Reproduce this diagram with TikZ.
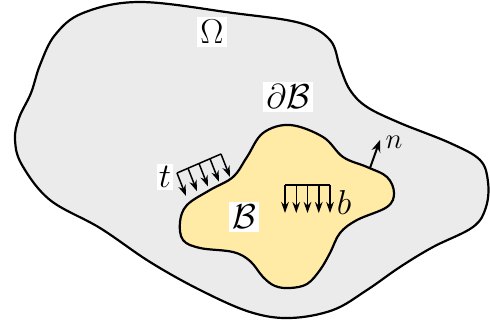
\documentclass[tikz,border=0pt]{standalone}
\usepackage{amsmath}
\usepackage{amssymb}
\usetikzlibrary{arrows.meta}
\definecolor{outergray}{HTML}{EBEBEB}
\definecolor{bodyyellow}{HTML}{FFEBA6}
\tikzset{
  lbl/.style={fill=white,inner sep=1.5pt,font=\LARGE},
  load/.style={-{Stealth[length=5.5pt,width=3.8pt]},line width=0.75pt}
}
\begin{document}
\begin{tikzpicture}[x=0.5pt,y=-0.5pt]
            \useasboundingbox (0,0) rectangle (490,325);

            % domain and body
            \draw[line width=1.1pt,fill=outergray] plot[smooth cycle,tension=0.6] coordinates {
                (140,2) (233,13) (300,23) (330,40) (340,67) (350,90) (367,107) (400,123)
                (450,143) (480,160) (488,182) (486,207) (473,227) (433,247) (400,267)
                (367,290) (333,310) (290,318) (250,312) (200,290) (150,262) (100,228)
                (50,200) (22,165) (15,140) (19,118) (31,93) (40,65) (55,35) (83,13)};
            \draw[line width=1.1pt,fill=bodyyellow] plot[smooth cycle,tension=0.6] coordinates {
                (290,125) (323,137) (343,157) (367,167) (387,177) (394,193) (387,207)
                (357,220) (340,233) (330,253) (320,270) (307,284) (290,288) (275,286)
                (263,277) (250,261) (233,252) (200,248) (183,240) (180,222) (187,205)
                (210,190) (233,177) (247,157) (263,133)};

            \node[lbl] (omega) at (212,32) {\(\Omega\)};
            \node[lbl] (bnd) at (288,97) {\(\partial\mathcal{B}\)};
            \node[lbl] (body) at (244,217) {\(\mathcal{B}\)};
            \node[lbl,inner sep=1pt] (tl) at (165,177) {\(t\)};
            \node[lbl,fill=none] (bl) at (344,202) {\(b\)};
            \node[lbl,fill=none,font=\Large] (nl) at (394,142) {\(n\)};

            % traction
            \foreach \i in {0,...,4}{
                \coordinate (t\i) at ({177+11*\i},{173-4.75*\i});
                \coordinate (u\i) at ({186+11*\i},{196-4.75*\i});
                \draw[load] (t\i) -- (u\i);
            }
            \draw[line width=0.75pt] (t0) -- (t4);

            % body force
            \foreach \i in {0,...,4}{
                \coordinate (b\i) at ({285+11.25*\i},185);
                \coordinate (c\i) at ({285+11.25*\i},213);
                \draw[load] (b\i) -- (c\i);
            }
            \draw[line width=0.75pt] (b0) -- (b4);

            % normal
            \coordinate (n0) at (370,168);
            \coordinate (n1) at (380,140);
            \draw[-{Stealth[length=6pt,width=4.5pt]},line width=1pt] (n0) -- (n1);
        \end{tikzpicture}
\end{document}
